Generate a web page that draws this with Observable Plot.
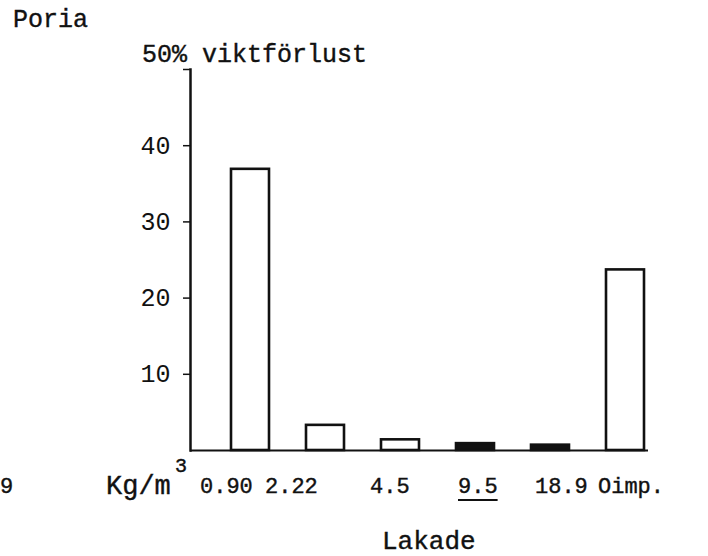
<!DOCTYPE html>
<html>
<head>
<meta charset="utf-8">
<script src="https://cdn.jsdelivr.net/npm/d3@7"></script>
<script src="https://cdn.jsdelivr.net/npm/@observablehq/plot@0.6"></script>
<style>
  html, body { margin: 0; padding: 0; background: #fff; }
  #wrap { position: relative; width: 708px; height: 556px; overflow: hidden; background: #fff; }
  .tw { position: absolute; font-family: "Liberation Mono", "Courier New", monospace; color: #111; white-space: pre; -webkit-text-stroke: 0.4px #111; line-height: 1; }
  #chart { position: absolute; left: 0; top: 0; }
  u { text-decoration-thickness: 2px; text-underline-offset: 6px; }
</style>
</head>
<body>
<div id="wrap">
  <div id="chart"></div>
</div>
<script>
// ---- data ----
const doses = ["0.90", "2.22", "4.5", "9.5", "18.9", "Oimp."];
const loss = [36.9, 3.3, 1.4, 0.9, 0.7, 23.7];
const yTicks = [10, 20, 30, 40, 50];
const underlined = ["9.5"];
const species = "Poria";
const yTitle = "50% viktförlust";
const unit = "Kg/m";
const unitPower = "3";
const xTitle = "Lakade";
const strayLeft = "9";

// typed label row: left edge of each typed dose label (layout, px)
const rowLefts = [200, 265, 370, 458, 535, 598];

const data = doses.map((d, i) => ({dose: d, loss: loss[i]}));

const plot = Plot.plot({
  width: 708,
  height: 470,
  marginLeft: 190,
  marginRight: 60,
  marginTop: 69,
  marginBottom: 20,
  style: {fontFamily: "Liberation Mono, Courier New, monospace", fontSize: "25px", color: "#111", background: "#fff"},
  x: {domain: doses, paddingInner: 0.5, paddingOuter: 0.285, align: 0.9, axis: null},
  y: {domain: [0, 50], axis: null},
  marks: [
    Plot.frame({anchor: "left", stroke: "#111", strokeWidth: 2.5}),
    Plot.axisY({ticks: yTicks, tickFormat: d => d === 50 ? "" : d, tickSize: 7, tickPadding: 13, label: null, stroke: "#111", strokeWidth: 1.5, fontSize: 25, fill: "#111"}),
    Plot.barY(data, {x: "dose", y: "loss", fill: d => d.loss < 1 ? "#111" : "white", stroke: "#111", strokeWidth: 2.6}),
    Plot.ruleY([0], {stroke: "#111", strokeWidth: 2.2})
  ]
});
document.getElementById("chart").appendChild(plot);

const wrap = document.getElementById("wrap");
function addText(html, left, top, size) {
  const el = document.createElement("div");
  el.className = "tw";
  el.style.left = left + "px";
  el.style.top = top + "px";
  el.style.fontSize = size + "px";
  el.innerHTML = html;
  wrap.appendChild(el);
  return el;
}
addText(species, 13, 8, 25);
addText(yTitle, 142, 43, 25);
addText(unit, 106, 474, 27);
addText(unitPower, 175, 457, 20);
doses.forEach((d, i) => {
  addText(underlined.includes(d) ? "<u>" + d + "</u>" : d, rowLefts[i], 477, 22);
});
addText(strayLeft, 0, 477, 22);
addText(xTitle, 382, 529, 26);
</script>
</body>
</html>
